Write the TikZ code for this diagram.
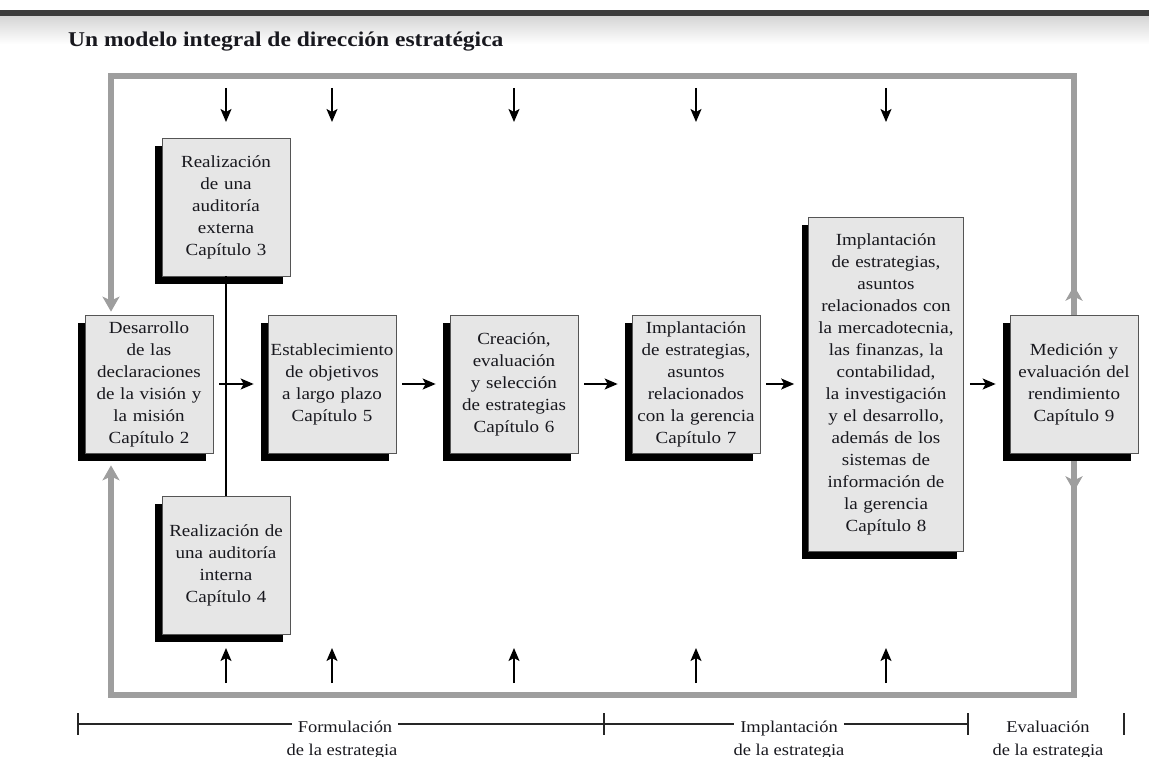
\documentclass[tikz,border=0pt]{standalone}
\usepackage{fontspec}
\setmainfont{Liberation Serif}[FakeStretch=1.12]
\usepackage{tikz}
\usetikzlibrary{arrows.meta,positioning,shadows,calc}
\definecolor{cMarco}{HTML}{9E9E9E}
\definecolor{cCaja}{HTML}{E6E6E6}
\definecolor{cBorde}{HTML}{555555}
\definecolor{cTexto}{HTML}{18181E}
\definecolor{cBarra}{HTML}{3C3C3C}
\tikzset{
  >={Stealth[length=13pt,width=11pt,inset=3pt]},
  caja/.style={draw=cBorde, fill=cCaja, line width=0.7pt, text=cTexto,
               font=\fontsize{17}{22}\selectfont, align=center,
               inner xsep=2pt, inner ysep=0pt, text width=#1, minimum height=138pt,
               drop shadow={shadow xshift=-7pt, shadow yshift=-8pt, fill=black, opacity=1}},
  caja/.default=124pt,
  titulo/.style={font=\bfseries\fontsize{21}{25}\selectfont, text=cTexto, inner sep=0pt},
  flujo/.style={->, line width=1.4pt, black, shorten <=6pt, shorten >=14pt},
  flecha/.style={->, line width=1.4pt, black},
  enlace/.style={line width=1.2pt, black},
  lazo/.style={line width=6pt, cMarco, -{Stealth[length=15pt,width=17pt,inset=4pt]}},
}
\begin{document}
\begin{tikzpicture}[x=1pt, y=-1pt,
   etapa/.style={font=\fontsize{16.5}{20}\selectfont, text=cTexto, inner xsep=6pt, inner ysep=0pt},
   eje/.style={line width=1.3pt, black!85},
   marca/.style={line width=1.8pt, black!85}]
  \useasboundingbox (0,0) rectangle (1149,757);
  \fill[cBarra] (0,10) rectangle (1149,17);
  \shade[top color=black!16, bottom color=white] (0,17) rectangle (1149,44);
  \node[titulo, anchor=base west] (tit) at (68,47) {Un modelo integral de dirección estratégica};

  \node[caja] (b2) at (149,384) {Desarrollo\\de las\\declaraciones\\de la visión y\\la misión\\Capítulo 2};
  \node[caja] (b3) at (226,207) {Realización\\de una\\auditoría\\externa\\Capítulo 3};
  \node[caja] (b4) at (226,565) {Realización de\\una auditoría\\interna\\Capítulo 4};
  \node[caja] (b5) at (332,384) {Establecimiento\\de objetivos\\a largo plazo\\Capítulo 5};
  \node[caja] (b6) at (514,384) {Creación,\\evaluación\\y selección\\de estrategias\\Capítulo 6};
  \node[caja] (b7) at (696,384) {Implantación\\de estrategias,\\asuntos\\relacionados\\con la gerencia\\Capítulo 7};
  \node[caja=151pt, minimum height=334pt] (b8) at (886,384)
       {Implantación\\de estrategias,\\asuntos\\relacionados con\\la mercadotecnia,\\las finanzas, la\\contabilidad,\\la investigación\\y el desarrollo,\\además de los\\sistemas de\\información de\\la gerencia\\Capítulo 8};
  \node[caja] (b9) at (1074,384) {Medición y\\evaluación del\\rendimiento\\Capítulo 9};

  \draw[enlace] (b3.south) -- (b4.north);
  \draw[flujo] (b2.east) -- (b5.west);
  \draw[flujo] (b5.east) -- (b6.west);
  \draw[flujo] (b6.east) -- (b7.west);
  \draw[flujo] (b7.east) -- (b8.west);
  \draw[flujo] (b8.east) -- (b9.west);

  \coordinate (ta) at (0,88);
  \coordinate (tb) at (0,122);
  \coordinate (ba) at (0,683);
  \coordinate (bb) at (0,648);
  \foreach \c in {b3,b5,b6,b7,b8}
    \draw[flecha] (\c.north |- ta) -- (\c.north |- tb);
  \foreach \c in {b4,b5,b6,b7,b8}
    \draw[flecha] (\c.south |- ba) -- (\c.south |- bb);

  \coordinate (tl) at (111,76);
  \coordinate (tr) at (1074,76);
  \coordinate (bl) at (111,695);
  \coordinate (br) at (1074,695);
  \draw[lazo, shorten >=3pt] (b9.north) -- (tr) -- (tl) -- (tl |- b2.north);
  \draw[lazo] (b9.north) -- ++(0,-29);
  \draw[lazo, shorten <=8pt, shorten >=12pt] (b9.south) -- (br) -- (bl) -- (bl |- b2.south);
  \draw[lazo, shorten <=8pt] (b9.south) -- ++(0,38);

  \coordinate (t0) at (78,724);
  \coordinate (t1) at (604,724);
  \coordinate (t2) at (968,724);
  \coordinate (t3) at (1124,724);
  \node[etapa, anchor=base] (fo)  at (345,732) {Formulación};
  \node[etapa, anchor=base] (fo2) at (342,755) {de la estrategia};
  \node[etapa, anchor=base] (im)  at (789,732) {Implantación};
  \node[etapa, anchor=base] (im2) at (789,755) {de la estrategia};
  \node[etapa, anchor=base] (ev)  at (1048,732) {Evaluación};
  \node[etapa, anchor=base] (ev2) at (1048,755) {de la estrategia};
  \draw[eje] (t0) -- (fo.west |- t0);
  \draw[eje] (fo.east |- t0) -- (t1) -- (im.west |- t0);
  \draw[eje] (im.east |- t0) -- (t2);
  \foreach \t in {t0,t1,t2,t3}
    \draw[marca] ([yshift=11pt]\t) -- ([yshift=-11pt]\t);
\end{tikzpicture}
\end{document}
